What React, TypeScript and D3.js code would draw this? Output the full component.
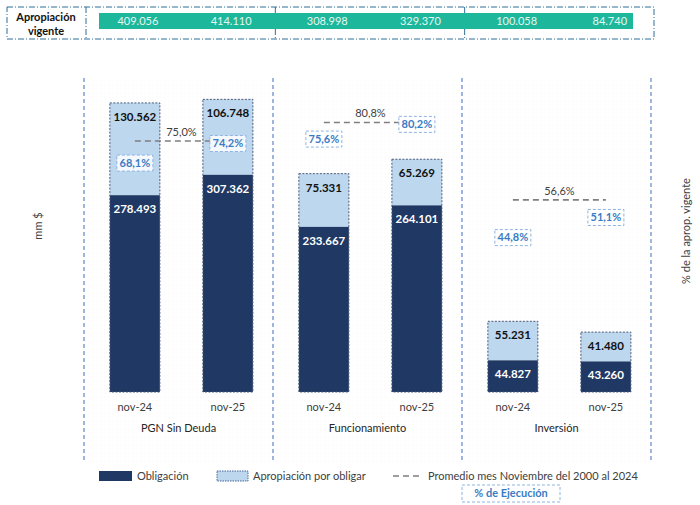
import React from "react";
import * as d3 from "d3";

const groups = ["PGN Sin Deuda", "Funcionamiento", "Inversión"];
const periods = ["nov-24", "nov-25"];
const obligacion = [
  [278.493, 307.362],
  [233.667, 264.101],
  [44.827, 43.26],
];
const porObligar = [
  [130.562, 106.748],
  [75.331, 65.269],
  [55.231, 41.48],
];
const apropiacionVigente = [
  [409.056, 414.11],
  [308.998, 329.37],
  [100.058, 84.74],
];
const ejecucion = [
  [68.1, 74.2],
  [75.6, 80.2],
  [44.8, 51.1],
];
const promedio = [75.0, 80.8, 56.6];

const FONT = "Lato, 'Open Sans', sans-serif";
const DARK = "#1f3864";
const LIGHT = "#bdd7ee";
const TEAL = "#1db89c";
const PCT_BLUE = "#3a7cc4";
const SEP = "#6d8fd0";

const fmtVal = (v: number) => d3.format(".3f")(v);
const fmtPct = (v: number) => v.toFixed(1).replace(".", ",") + "%";

export default function App() {
  const W = 700;
  const H = 505;

  const xGroup = d3.scaleBand<string>().domain(groups).range([84, 651]);
  const xPeriod = d3
    .scalePoint<string>()
    .domain(periods)
    .range([0, xGroup.bandwidth()])
    .padding(0.516)
    .align(0.53);
  const barW = 50;

  const y = d3.scaleLinear().domain([0, 450]).range([392, 74]);
  const yPct = d3.scaleLinear().domain([0, 100]).range([381, 61]);

  const xTable = d3.scaleBand<string>().domain(groups).range([86, 654]);
  const xTablePeriod = d3
    .scalePoint<string>()
    .domain(periods)
    .range([0, xTable.bandwidth()])
    .padding(0.516)
    .align(0.54);

  const sepXs = [xGroup.range()[0], ...groups.map((g) => (xGroup(g) as number) + xGroup.bandwidth())];

  return (
    <svg
      width={W}
      height={H}
      viewBox={`0 0 ${W} ${H}`}
      style={{ position: "absolute", left: 0, top: 0, background: "#fff" }}
      fontFamily={FONT}
    >
      <defs>
        <pattern id="dots" width="4" height="4" patternUnits="userSpaceOnUse">
          <circle cx="1" cy="1" r="0.5" fill="#eeeeee" />
        </pattern>
      </defs>
      <rect x={84} y={78} width={567} height={384} fill="url(#dots)" />

      {/* Top table */}
      <g>
        <rect x={7} y={7} width={647} height={32} fill="none" stroke="#2f6f9a" strokeWidth={1} strokeDasharray="6,2,1,2" />
        {[86, ...groups.slice(1).map((g) => xTable(g) as number)].map((xx, i) => (
          <line key={i} x1={xx} x2={xx} y1={7} y2={39} stroke="#2f6f9a" strokeWidth={1} strokeDasharray="6,2,1,2" />
        ))}
        <text x={46} y={21} textAnchor="middle" fontSize={11} fontWeight={700} fill="#111">Apropiación</text>
        <text x={46} y={35} textAnchor="middle" fontSize={11} fontWeight={700} fill="#111">vigente</text>
        <rect x={99} y={13} width={534} height={16} fill={TEAL} />
        {groups.map((g, gi) =>
          periods.map((p, pi) => (
            <text
              key={g + p}
              x={(xTable(g) as number) + (xTablePeriod(p) as number)}
              y={21}
              dy="0.35em"
              textAnchor="middle"
              fontSize={11}
              fill="#e6f6f1"
            >
              {fmtVal(apropiacionVigente[gi][pi])}
            </text>
          ))
        )}
      </g>

      {/* Separators */}
      {sepXs.map((sx, i) => (
        <line key={i} x1={sx} x2={sx} y1={78} y2={462} stroke={SEP} strokeWidth={1.3} strokeDasharray="4,3" />
      ))}

      {/* Axis titles */}
      <text transform={`translate(38,226) rotate(-90)`} textAnchor="middle" dy="0.35em" fontSize={11} fill="#404040">mm $</text>
      <text transform={`translate(686,231) rotate(-90)`} textAnchor="middle" dy="0.35em" fontSize={11} fill="#404040">% de la aprop. vigente</text>

      {/* Bars */}
      {groups.map((g, gi) => {
        const gx = xGroup(g) as number;
        return (
          <g key={g}>
            {periods.map((p, pi) => {
              const cx = gx + (xPeriod(p) as number);
              const ob = obligacion[gi][pi];
              const po = porObligar[gi][pi];
              const total = ob + po;
              const x0 = cx - barW / 2;
              return (
                <g key={p}>
                  <rect x={x0} y={y(total)} width={barW} height={y(ob) - y(total)} fill={LIGHT} />
                  <rect x={x0} y={y(ob)} width={barW} height={y(0) - y(ob)} fill={DARK} />
                  <rect
                    x={x0}
                    y={y(total)}
                    width={barW}
                    height={y(0) - y(total)}
                    fill="none"
                    stroke="#4a5a78"
                    strokeWidth={1}
                    strokeDasharray="2,1.5"
                  />
                  <text x={cx} y={y(total) + 14} dy="0.35em" textAnchor="middle" fontSize={11.5} fontWeight={700} fill="#111">
                    {fmtVal(po)}
                  </text>
                  <text x={cx} y={y(ob) + 14} dy="0.35em" textAnchor="middle" fontSize={11.5} fontWeight={700} fill="#fff">
                    {fmtVal(ob)}
                  </text>
                  <text x={cx} y={407} dy="0.35em" textAnchor="middle" fontSize={11} fill="#404040">{p}</text>
                </g>
              );
            })}
            {/* average line */}
            {(() => {
              const x1 = gx + (xPeriod(periods[0]) as number);
              const x2 = gx + (xPeriod(periods[1]) as number);
              const yy = yPct(promedio[gi]);
              return (
                <g>
                  <line x1={x1} x2={x2} y1={yy} y2={yy} stroke="#7f7f7f" strokeWidth={1.6} strokeDasharray="6,4" />
                  <text x={(x1 + x2) / 2} y={yy - 9} dy="0.35em" textAnchor="middle" fontSize={11} fill="#404040">
                    {fmtPct(promedio[gi])}
                  </text>
                </g>
              );
            })()}
            {periods.map((p, pi) => {
              const cx = gx + (xPeriod(p) as number);
              const yy = yPct(ejecucion[gi][pi]);
              return (
                <g key={"pct" + p}>
                  <rect x={cx - 18} y={yy - 8} width={36} height={16} fill="#fff" fillOpacity={0.85} stroke="#8db3e2" strokeWidth={1} strokeDasharray="3,2" />
                  <text x={cx} y={yy} dy="0.35em" textAnchor="middle" fontSize={11} fontWeight={700} fill={PCT_BLUE}>
                    {fmtPct(ejecucion[gi][pi])}
                  </text>
                </g>
              );
            })}
            <text x={gx + xGroup.bandwidth() / 2} y={428} dy="0.35em" textAnchor="middle" fontSize={11} fill="#262626">
              {g}
            </text>
          </g>
        );
      })}

      {/* Legend */}
      <g fontSize={11} fill="#404040">
        <rect x={99} y={471} width={33} height={10} fill={DARK} />
        <text x={137} y={476} dy="0.35em" fill="#404040">Obligación</text>
        <rect x={217} y={471} width={31} height={10} fill={LIGHT} stroke="#4a6a9a" strokeWidth={1} strokeDasharray="1.5,1" />
        <text x={253} y={476} dy="0.35em" fill="#404040">Apropiación por obligar</text>
        <line x1={393} x2={421} y1={476} y2={476} stroke="#7f7f7f" strokeWidth={1.6} strokeDasharray="6,4" />
        <text x={428} y={476} dy="0.35em" fill="#404040">Promedio mes Noviembre del 2000 al 2024</text>
        <rect x={462} y={485} width={98} height={17} fill="none" stroke="#8db3e2" strokeWidth={1} strokeDasharray="3,2" />
        <text x={511} y={493.5} dy="0.35em" textAnchor="middle" fontWeight={700} fill={PCT_BLUE}>% de Ejecución</text>
      </g>
    </svg>
  );
}
